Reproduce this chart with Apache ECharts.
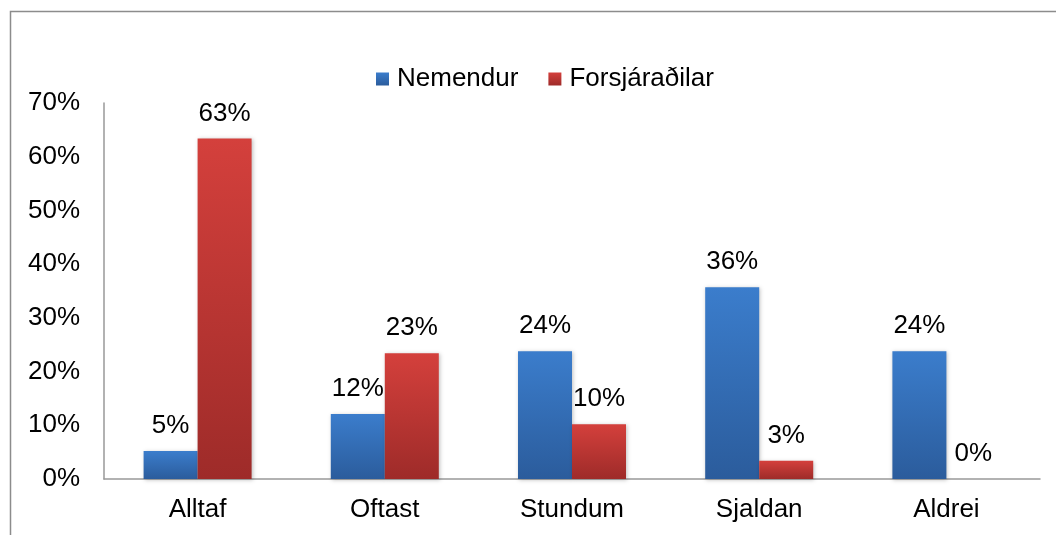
<!DOCTYPE html>
<html>
<head>
<meta charset="utf-8">
<script src="https://cdn.jsdelivr.net/npm/echarts@6/dist/echarts.min.js"></script>
<style>
  html, body { margin: 0; padding: 0; background: #fff; }
  #chart { width: 1056px; height: 535px; }
</style>
</head>
<body>
<div id="chart"></div>
<script>
// flokkar og gildi (lesin af myndinni, %)
var categories = ['Alltaf', 'Oftast', 'Stundum', 'Sjaldan', 'Aldrei'];
var seriesNames = ['Nemendur', 'Forsjáraðilar'];
var nemendur = [5.2, 12.1, 23.8, 35.7, 23.8];
var forsjaradilar = [63.4, 23.4, 10.2, 3.4, 0];

var myChart = echarts.init(document.getElementById('chart'));

function grad(top, bottom) {
    return new echarts.graphic.LinearGradient(0, 0, 0, 1, [
        { offset: 0, color: top },
        { offset: 1, color: bottom }
    ]);
}

var font = 'Liberation Sans, Arial, sans-serif';

var labelStyle = {
    show: true,
    position: 'top',
    distance: 12,
    fontFamily: font,
    fontSize: 26,
    color: '#000',
    formatter: function (p) { return Math.round(p.value) + '%'; }
};

var option = {
    animation: false,
    textStyle: { fontFamily: font },
    graphic: [{
        type: 'rect',
        shape: { x: 10.5, y: 11.5, width: 1200, height: 700 },
        style: { fill: 'none', stroke: '#8c8c8c', lineWidth: 1.5 },
        silent: true
    }],
    legend: {
        data: seriesNames,
        top: 61,
        left: 371,
        itemWidth: 13,
        itemHeight: 13,
        itemGap: 30,
        icon: 'rect',
        textStyle: { fontSize: 26, color: '#000', fontFamily: font, padding: [0, 0, 0, 3] }
    },
    grid: {
        left: 104,
        right: 16,
        top: 103,
        bottom: 56,
        containLabel: false
    },
    xAxis: {
        type: 'category',
        data: categories,
        axisLine: { lineStyle: { color: '#999', width: 1.5 } },
        axisTick: { show: false },
        axisLabel: { fontSize: 26, color: '#000', margin: 18 }
    },
    yAxis: {
        type: 'value',
        min: 0,
        max: 70,
        interval: 10,
        axisLine: { show: true, lineStyle: { color: '#999', width: 1.5 } },
        axisTick: { show: false },
        splitLine: { show: false },
        axisLabel: { fontSize: 26, color: '#000', margin: 24, formatter: '{value}%' }
    },
    series: [{
        name: seriesNames[0],
        type: 'bar',
        data: nemendur,
        barWidth: 54,
        barGap: '0%',
        itemStyle: {
            color: grad('#3b7dcc', '#2b5c9c'),
            shadowColor: 'rgba(0,0,0,0.25)',
            shadowBlur: 4,
            shadowOffsetX: 1,
            shadowOffsetY: 1
        },
        label: labelStyle
    }, {
        name: seriesNames[1],
        type: 'bar',
        data: forsjaradilar,
        barWidth: 54,
        barGap: '0%',
        itemStyle: {
            color: grad('#d4403c', '#9e2b29'),
            shadowColor: 'rgba(0,0,0,0.25)',
            shadowBlur: 4,
            shadowOffsetX: 1,
            shadowOffsetY: 1
        },
        label: labelStyle
    }]
};

myChart.setOption(option);
</script>
</body>
</html>
